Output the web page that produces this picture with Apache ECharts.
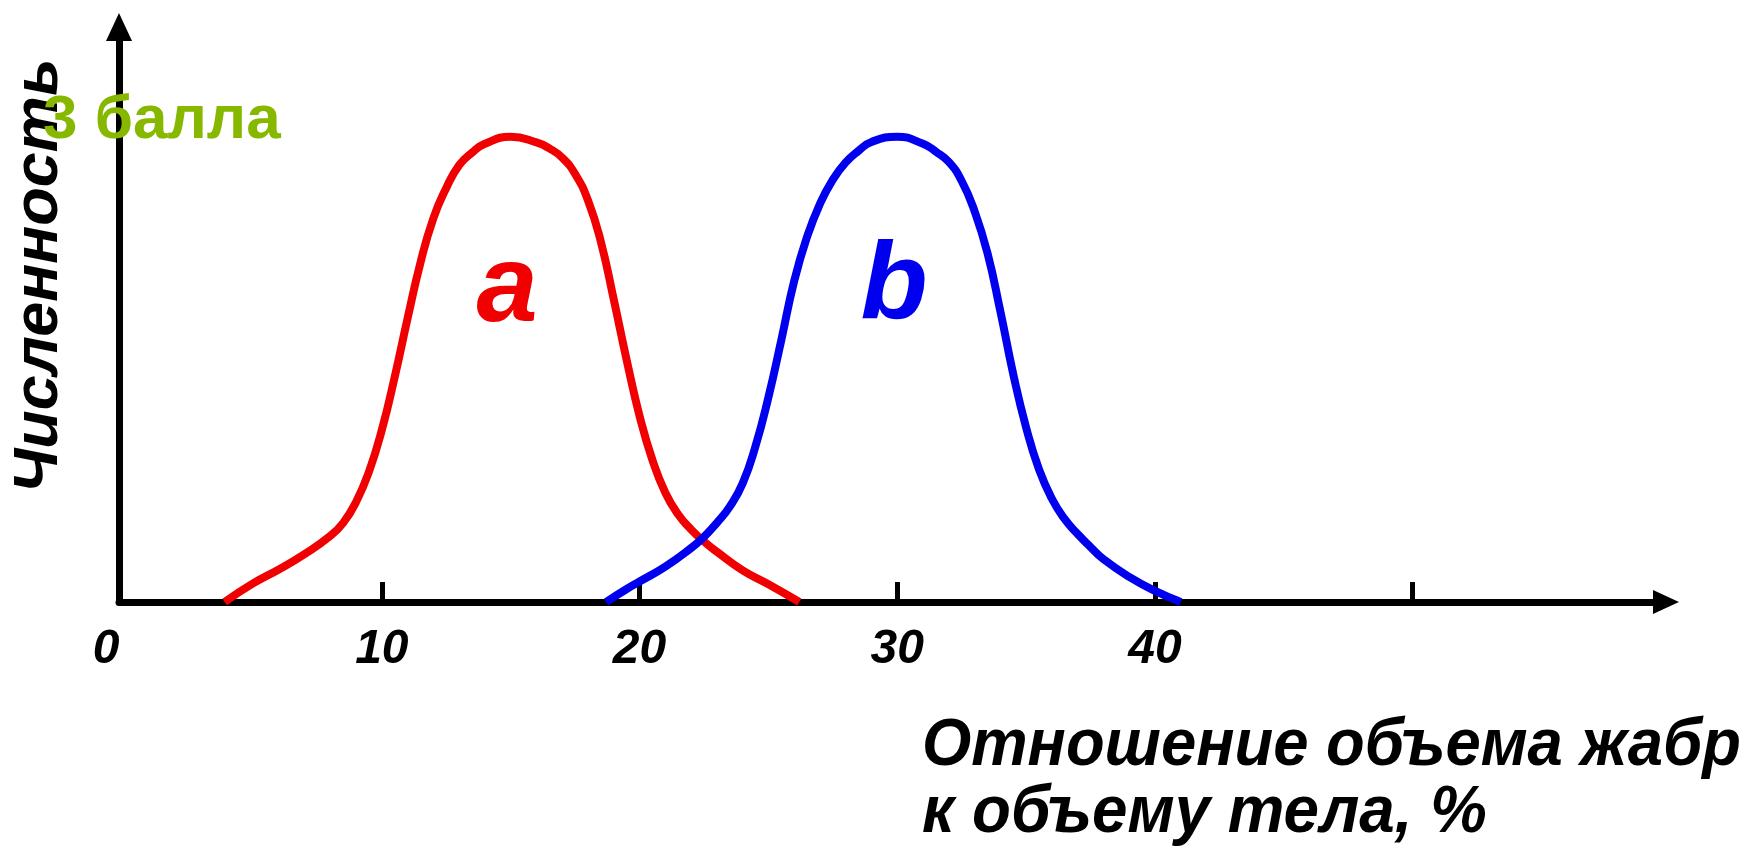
<!DOCTYPE html>
<html>
<head>
<meta charset="utf-8">
<script src="https://cdn.jsdelivr.net/npm/echarts@6/dist/echarts.min.js"></script>
<style>
html,body{margin:0;padding:0;background:#fff;}
#chart{width:1748px;height:848px;}
</style>
</head>
<body>
<div id="chart"></div>
<script>
// Curve a (red): [x %, relative number]
const curveA = [
  [3.9,0],[5,4.0],[6,7.0],[7,10.3],[8,14.2],[8.5,17.0],[9,21.5],[9.5,28.0],[10,37.0],
  [10.5,48.4],[11,61.0],[11.5,73.0],[12,82.5],[12.5,89.0],[13,93.9],[13.5,96.6],[14,98.5],
  [15,100],[16,98.8],[16.5,97.5],[17,95.5],[17.5,92.0],[18,86.3],[18.5,77.4],[19,65.0],
  [19.5,52.0],[20,40.0],[20.5,30.5],[21,23.5],[21.5,18.8],[22,15.6],[22.5,13.0],[23,10.8],
  [24,6.8],[25,3.8],[26.2,0]
];
// Curve b (blue)
const curveB = [
  [18.7,0],[19.5,2.8],[20,4.4],[21,7.6],[22,11.6],[22.5,14.0],[23,17.0],[23.5,20.5],
  [24,25.5],[24.5,33.5],[25,44.0],[25.5,56.3],[26,69.0],[26.5,78.5],[27,85.6],[27.5,90.8],
  [28,94.5],[28.5,97.0],[29,98.9],[30,100],[31,98.5],[31.5,96.8],[32,94.6],[32.5,90.5],
  [33,84.0],[33.5,75.0],[34,62.5],[34.5,49.0],[35,37.5],[35.5,28.5],[36,22.2],[36.5,17.8],
  [37,14.6],[37.5,11.8],[38,9.2],[39,5.4],[40,2.4],[41,0]
];
const xTickValues = [10, 20, 30, 40, 50];
const xLabelValues = [0, 10, 20, 30, 40];
const seriesNames = ['a', 'b'];
const xTitle = 'Отношение объема жабр\nк объему тела, %';
const yTitle = 'Численность';
const scoreText = '3 балла';

const FONT = 'Liberation Sans, Arial, sans-serif';
const chart = echarts.init(document.getElementById('chart'));
chart.setOption({
  animation: false,
  backgroundColor: '#ffffff',
  grid: { left: 119, right: 82, top: 27, bottom: 246, outerBoundsMode: 'none' },
  xAxis: {
    type: 'value', min: -0.2, max: 59.83,
    axisLine: { show: true, onZero: false, symbol: ['none', 'triangle'], symbolSize: [24, 26],
      lineStyle: { color: '#000', width: 7 } },
    axisTick: { show: true, inside: true, length: 20, customValues: xTickValues,
      lineStyle: { color: '#000', width: 5 } },
    axisLabel: { customValues: xLabelValues, margin: 24, color: '#000',
      fontFamily: FONT, fontSize: 48, fontStyle: 'italic', fontWeight: 'bold',
      formatter: function (v) { return v === 0 ? '{z|0}' : String(v); },
      rich: { z: { fontFamily: FONT, fontSize: 48, fontStyle: 'italic', fontWeight: 'bold', color: '#000', padding: [0, 36, 0, 0] } } },
    splitLine: { show: false }
  },
  yAxis: {
    type: 'value', min: 0, max: 123.6,
    axisLine: { show: true, onZero: false, symbol: ['none', 'triangle'], symbolSize: [26, 28],
      lineStyle: { color: '#000', width: 7 } },
    axisTick: { show: false }, axisLabel: { show: false }, splitLine: { show: false }
  },
  series: [
    { name: seriesNames[0], type: 'line', data: curveA, smooth: 0.5, showSymbol: false,
      lineStyle: { color: '#f00000', width: 8 }, z: 2 },
    { name: seriesNames[1], type: 'line', data: curveB, smooth: 0.5, showSymbol: false,
      lineStyle: { color: '#0000ee', width: 8 }, z: 3 }
  ],
  graphic: [
    { type: 'text', x: 40, y: 276, rotation: Math.PI / 2,
      style: { text: yTitle, font: 'italic bold 63px ' + FONT, fill: '#000', align: 'center', verticalAlign: 'middle' } },
    { type: 'text', x: 922, y: 714, scaleX: 0.96,
      style: { text: xTitle.split('\n')[0], font: 'italic bold 66px ' + FONT, fill: '#000', align: 'left', verticalAlign: 'top' } },
    { type: 'text', x: 922, y: 781, scaleX: 0.965,
      style: { text: xTitle.split('\n')[1], font: 'italic bold 66px ' + FONT, fill: '#000', align: 'left', verticalAlign: 'top' } },
    { type: 'text', x: 43, y: 121, z: 10,
      style: { text: scoreText, font: 'bold 62px ' + FONT, fill: '#86b800', align: 'left', verticalAlign: 'middle' } },
    { type: 'text', x: 507, y: 291,
      style: { text: seriesNames[0], font: 'italic bold 110px ' + FONT, fill: '#f00000', align: 'center', verticalAlign: 'middle' } },
    { type: 'text', x: 894, y: 288,
      style: { text: seriesNames[1], font: 'italic bold 110px ' + FONT, fill: '#0000ee', align: 'center', verticalAlign: 'middle' } }
  ]
});
</script>
</body>
</html>
